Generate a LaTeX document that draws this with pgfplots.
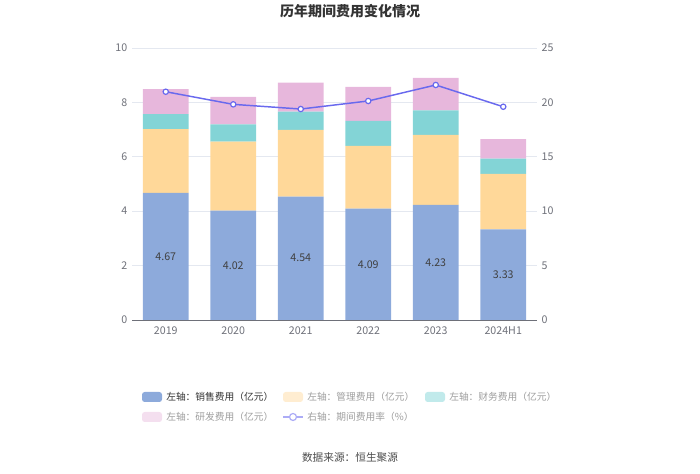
\documentclass[border=0pt]{standalone}
\usepackage{pgfplots}
\pgfplotsset{compat=1.18}
\usepackage{fontspec}
\setmainfont{Noto Sans CJK SC}
\definecolor{cSales}{RGB}{141,170,219}
\definecolor{cAdmin}{RGB}{255,216,153}
\definecolor{cFin}{RGB}{131,212,214}
\definecolor{cRD}{RGB}{231,183,220}
\definecolor{cLine}{RGB}{105,105,238}
\definecolor{cTick}{RGB}{110,112,121}
\definecolor{cGrid}{RGB}{228,232,240}
\definecolor{cAxis}{RGB}{110,112,121}
\begin{document}
\begin{tikzpicture}
\path[use as bounding box] (0pt,0pt) rectangle (525pt,355.5pt);
\node[font=\bfseries\fontsize{10.5}{12}\selectfont, text=black!80] at (262.5pt,347.25pt) {历年期间费用变化情况};
\begin{axis}[
  at={(99pt,115.5pt)}, anchor=south west,
  scale only axis, width=303.75pt, height=204pt,
  xmin=-0.5, xmax=5.5, ymin=0, ymax=10,
  ytick={0,2,...,10},
  xtick={0,...,5},
  xticklabels={2019,2020,2021,2022,2023,2024H1},
  axis x line*=bottom, axis y line*=left,
  y axis line style={draw=none},
  x axis line style={draw=cAxis},
  xtick style={draw=cAxis}, ytick style={draw=none},
  major tick length=4pt,
  xtick pos=bottom,
  tick label style={font=\fontsize{8}{9}\selectfont, text=cTick},
  xticklabel style={yshift=-1.5pt},
  /pgf/number format/assume math mode=true,
  ymajorgrids, grid style={draw=cGrid, line width=0.6pt},
  xmajorgrids=false,
  ybar stacked, bar width=0.68,
  every axis plot/.append style={draw=none},
  clip=false,
]
\addplot[fill=cSales] coordinates {(0,4.67) (1,4.02) (2,4.54) (3,4.09) (4,4.23) (5,3.33)};
\addplot[fill=cAdmin] coordinates {(0,2.35) (1,2.54) (2,2.45) (3,2.31) (4,2.58) (5,2.04)};
\addplot[fill=cFin] coordinates {(0,0.55) (1,0.63) (2,0.67) (3,0.92) (4,0.90) (5,0.56)};
\addplot[fill=cRD] coordinates {(0,0.92) (1,1.01) (2,1.07) (3,1.25) (4,1.19) (5,0.72)};
\end{axis}
\begin{axis}[
  at={(99pt,115.5pt)}, anchor=south west,
  scale only axis, width=303.75pt, height=204pt,
  xmin=-0.5, xmax=5.5, ymin=0, ymax=25,
  ytick={0,5,...,25},
  axis x line=none, axis y line*=right,
  y axis line style={draw=none}, ytick style={draw=none},
  tick label style={font=\fontsize{8}{9}\selectfont, text=cTick},
  /pgf/number format/assume math mode=true,
  clip=false,
]
\addplot[color=cLine, line width=1.1pt, mark=*, mark size=2pt, mark options={fill=white, draw=cLine, line width=0.9pt}]
  coordinates {(0,20.98) (1,19.82) (2,19.39) (3,20.13) (4,21.60) (5,19.60)};
\end{axis}
\begin{axis}[
  at={(99pt,115.5pt)}, anchor=south west,
  scale only axis, width=303.75pt, height=204pt,
  xmin=-0.5, xmax=5.5, ymin=0, ymax=10,
  axis lines=none, clip=false,
]
\addplot[only marks, mark=none,
  nodes near coords, point meta=explicit symbolic,
  every node near coord/.style={anchor=center, font=\fontsize{8}{9}\selectfont, text=black!75}]
  coordinates {(0,2.335)[4.67] (1,2.01)[4.02] (2,2.27)[4.54] (3,2.045)[4.09] (4,2.115)[4.23] (5,1.665)[3.33]};
\end{axis}
\begin{scope}[x=0.75pt,y=0.75pt,font=\fontsize{7.3}{8.5}\selectfont]
\fill[cSales, rounded corners=2pt] (142,72) rectangle (162,82);
\node[anchor=west, text=black!80, inner sep=0pt] at (166,77) {左轴：销售费用（亿元）};
\fill[cAdmin!45, rounded corners=2pt] (283,72) rectangle (303,82);
\node[anchor=west, text=black!38, inner sep=0pt] at (307,77) {左轴：管理费用（亿元）};
\fill[cFin!50, rounded corners=2pt] (425,72) rectangle (445,82);
\node[anchor=west, text=black!38, inner sep=0pt] at (449,77) {左轴：财务费用（亿元）};
\fill[cRD!45, rounded corners=2pt] (142,52) rectangle (162,62);
\node[anchor=west, text=black!38, inner sep=0pt] at (166,57) {左轴：研发费用（亿元）};
\draw[cLine!55, line width=1pt] (283,57) -- (303,57);
\draw[cLine!55, fill=white, line width=0.9pt] (293,57) circle (3.5);
\node[anchor=west, text=black!38, inner sep=0pt] at (307,57) {右轴：期间费用率（\%）};
\node[font=\fontsize{8}{9}\selectfont, text=black!70] at (350,17) {数据来源：恒生聚源};
\end{scope}
\end{tikzpicture}
\end{document}
